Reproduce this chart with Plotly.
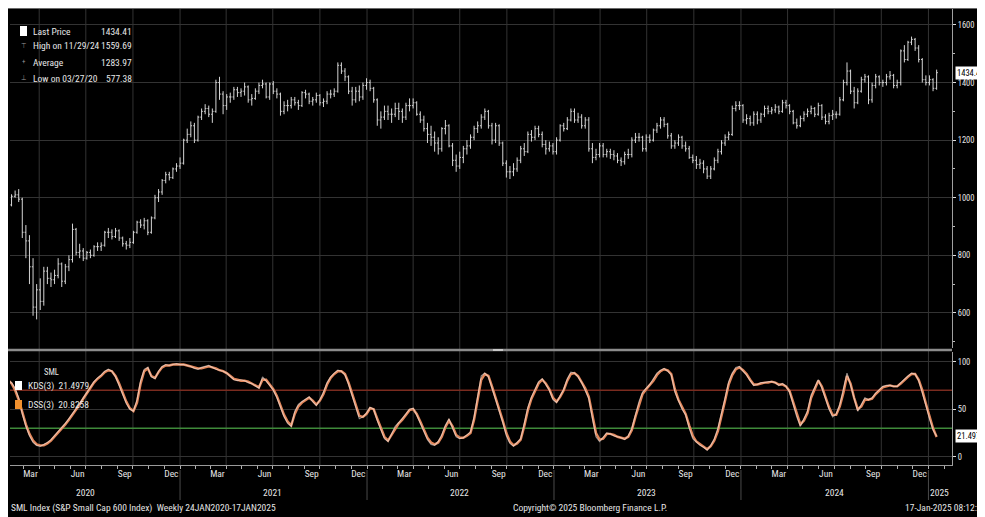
import plotly.graph_objects as go
import pandas as pd

# ---------------- data ----------------
week_dates = pd.date_range("2020-01-24", "2025-01-17", freq="7D")

first_open = 1010
close = [
    1000, 975, 1005, 1010, 995, 880, 850, 760, 620, 680,
    640, 745, 720, 715, 730, 770, 710, 760, 785, 890,
    810, 815, 790, 810, 800, 830, 830, 835, 880, 880,
    865, 885, 860, 840, 835, 845, 880, 915, 905, 920,
    880, 930, 1000, 1020, 1060, 1080, 1070, 1100, 1110, 1120,
    1200, 1220, 1250, 1200, 1280, 1300, 1310, 1290, 1300, 1400,
    1360, 1320, 1350, 1350, 1375, 1365, 1370, 1385, 1340, 1345,
    1370, 1390, 1395, 1350, 1395, 1370, 1360, 1300, 1320, 1320,
    1340, 1330, 1320, 1365, 1360, 1335, 1340, 1355, 1330, 1335,
    1360, 1360, 1370, 1460, 1440, 1420, 1370, 1340, 1370, 1350,
    1390, 1400, 1380, 1340, 1270, 1280, 1300, 1290, 1290, 1310,
    1300, 1280, 1320, 1320, 1330, 1290, 1270, 1240, 1220, 1210,
    1190, 1170, 1240, 1250, 1180, 1130, 1110, 1140, 1170, 1180,
    1210, 1240, 1250, 1280, 1300, 1250, 1200, 1250, 1190, 1120,
    1090, 1090, 1100, 1130, 1170, 1160, 1220, 1210, 1240, 1220,
    1185, 1170, 1180, 1160, 1200, 1250, 1240, 1270, 1300, 1270,
    1280, 1250, 1270, 1170, 1140, 1150, 1180, 1150, 1160, 1150,
    1145, 1130, 1125, 1150, 1150, 1200, 1210, 1210, 1170, 1210,
    1200, 1235, 1250, 1270, 1255, 1215, 1180, 1190, 1210, 1180,
    1170, 1140, 1130, 1115, 1120, 1100, 1075, 1100, 1130, 1160,
    1190, 1210, 1220, 1310, 1320, 1320, 1270, 1275, 1260, 1290,
    1270, 1290, 1310, 1300, 1305, 1315, 1300, 1330, 1320, 1300,
    1260, 1250, 1275, 1290, 1300, 1310, 1290, 1320, 1280, 1265,
    1285, 1290, 1290, 1340, 1400, 1440, 1370, 1330, 1370, 1410,
    1420, 1340, 1390, 1420, 1400, 1400, 1420, 1425, 1390, 1400,
    1510, 1480, 1540, 1550, 1520, 1480, 1410, 1400, 1410, 1380,
    1434.41,
]

high = [
    1025, 1010, 1012, 1025, 1030, 1000, 905, 870, 790, 700,
    720, 760, 760, 740, 750, 790, 775, 770, 800, 910,
    895, 840, 825, 815, 820, 835, 845, 845, 885, 895,
    890, 895, 890, 865, 850, 860, 885, 920, 925, 930,
    925, 935, 1010, 1030, 1065, 1090, 1090, 1105, 1120, 1140,
    1205, 1240, 1265, 1260, 1285, 1310, 1325, 1320, 1310, 1410,
    1420, 1370, 1360, 1365, 1385, 1385, 1380, 1400, 1390, 1360,
    1380, 1400, 1410, 1400, 1400, 1405, 1380, 1365, 1335, 1340,
    1350, 1350, 1340, 1370, 1375, 1365, 1350, 1365, 1360, 1345,
    1370, 1375, 1380, 1470, 1470, 1450, 1425, 1385, 1385, 1390,
    1400, 1415, 1410, 1385, 1345, 1300, 1320, 1320, 1310, 1330,
    1330, 1310, 1330, 1345, 1345, 1335, 1300, 1285, 1260, 1250,
    1230, 1210, 1245, 1270, 1255, 1190, 1150, 1160, 1180, 1200,
    1220, 1250, 1265, 1290, 1310, 1305, 1260, 1260, 1255, 1195,
    1130, 1110, 1120, 1140, 1180, 1190, 1230, 1235, 1250, 1250,
    1230, 1200, 1195, 1190, 1210, 1255, 1260, 1280, 1310, 1310,
    1295, 1290, 1280, 1280, 1190, 1170, 1190, 1190, 1170, 1170,
    1165, 1155, 1140, 1160, 1170, 1210, 1225, 1225, 1215, 1220,
    1220, 1240, 1260, 1280, 1280, 1260, 1225, 1200, 1220, 1215,
    1195, 1180, 1150, 1145, 1135, 1130, 1110, 1110, 1140, 1170,
    1200, 1220, 1230, 1320, 1335, 1335, 1325, 1290, 1285, 1300,
    1300, 1295, 1320, 1320, 1315, 1325, 1320, 1340, 1340, 1325,
    1305, 1275, 1285, 1300, 1310, 1320, 1315, 1330, 1325, 1290,
    1295, 1305, 1300, 1350, 1410, 1470, 1445, 1385, 1380, 1420,
    1430, 1425, 1400, 1430, 1425, 1410, 1430, 1440, 1430, 1410,
    1515, 1530, 1545, 1559.69, 1555, 1530, 1485, 1425, 1425, 1415,
    1445,
]

low = [
    990, 965, 970, 1000, 985, 860, 790, 700, 590, 577.38,
    610, 625, 700, 690, 700, 720, 690, 700, 745, 775,
    800, 790, 780, 785, 790, 795, 815, 815, 830, 860,
    855, 860, 850, 830, 820, 825, 840, 875, 895, 890,
    870, 875, 925, 985, 1010, 1050, 1060, 1065, 1090, 1100,
    1115, 1190, 1210, 1190, 1195, 1270, 1290, 1280, 1260, 1295,
    1340, 1290, 1305, 1330, 1340, 1350, 1350, 1355, 1330, 1320,
    1340, 1360, 1380, 1345, 1340, 1360, 1345, 1285, 1290, 1300,
    1310, 1320, 1305, 1315, 1345, 1325, 1320, 1330, 1320, 1315,
    1325, 1345, 1350, 1365, 1430, 1405, 1360, 1320, 1330, 1335,
    1340, 1375, 1370, 1330, 1250, 1240, 1270, 1270, 1260, 1280,
    1270, 1260, 1270, 1300, 1310, 1285, 1260, 1230, 1190, 1180,
    1160, 1150, 1160, 1220, 1175, 1110, 1090, 1100, 1120, 1150,
    1170, 1200, 1225, 1240, 1270, 1240, 1185, 1190, 1180, 1110,
    1070, 1065, 1075, 1090, 1120, 1145, 1155, 1195, 1200, 1210,
    1175, 1150, 1160, 1150, 1150, 1195, 1230, 1235, 1265, 1260,
    1260, 1240, 1240, 1160, 1120, 1130, 1140, 1140, 1140, 1135,
    1130, 1120, 1110, 1115, 1135, 1140, 1190, 1195, 1160, 1160,
    1190, 1195, 1225, 1240, 1245, 1205, 1170, 1170, 1180, 1170,
    1160, 1135, 1120, 1100, 1100, 1085, 1065, 1065, 1095, 1120,
    1150, 1180, 1200, 1215, 1300, 1305, 1260, 1255, 1250, 1250,
    1255, 1260, 1280, 1290, 1290, 1295, 1290, 1295, 1310, 1290,
    1255, 1240, 1245, 1265, 1280, 1290, 1280, 1285, 1270, 1255,
    1255, 1270, 1275, 1285, 1335, 1390, 1360, 1310, 1325, 1365,
    1400, 1325, 1330, 1380, 1390, 1385, 1390, 1410, 1380, 1380,
    1390, 1470, 1475, 1530, 1510, 1470, 1400, 1390, 1390, 1370,
    1375,
]

kds = [
    85, 80, 78, 72, 62, 45, 32, 22, 15, 12,
    11, 13, 15, 18, 22, 26, 30, 35, 40, 45,
    50, 56, 62, 68, 74, 79, 83, 86, 90, 92,
    90, 84, 75, 65, 56, 50, 48, 60, 80, 92,
    94, 84, 82, 90, 95, 97, 96, 97, 98, 97,
    97, 96, 95, 93, 92, 94, 95, 96, 94, 92,
    91, 90, 88, 84, 81, 80, 81, 80, 78, 77,
    74, 72, 84, 80, 75, 70, 62, 52, 42, 35,
    32, 48, 55, 58, 61, 63, 58, 54, 60, 68,
    78, 84, 88, 91, 90, 86, 76, 64, 52, 40,
    42, 46, 52, 50, 38, 28, 19, 16, 25, 32,
    36, 40, 45, 50, 51, 44, 35, 26, 18, 13,
    12, 16, 23, 33, 40, 30, 21, 19, 20, 23,
    26, 42, 62, 85, 88, 84, 72, 61, 48, 36,
    22, 14, 11, 15, 19, 35, 52, 63, 72, 79,
    82, 76, 70, 60, 57, 64, 71, 82, 89, 88,
    84, 78, 70, 61, 40, 21, 16, 20, 25, 24,
    22, 21, 20, 18, 22, 30, 45, 58, 68, 72,
    76, 82, 88, 91, 93, 90, 86, 68, 58, 50,
    44, 30, 19, 15, 12, 10, 7, 12, 19, 30,
    45, 62, 79, 88, 94, 95, 90, 86, 80, 75,
    76, 78, 78, 79, 79, 78, 75, 77, 74, 68,
    55, 42, 32, 40, 48, 65, 74, 81, 72, 61,
    50, 42, 45, 55, 70, 88, 75, 60, 48, 55,
    62, 60, 62, 67, 70, 74, 75, 75, 74, 74,
    78, 82, 85, 88, 87, 80, 68, 54, 40, 28,
    21.4979,
]

dss = [
    83, 81, 77, 70, 60, 47, 34, 24, 17, 13,
    12, 12, 14, 17, 21, 25, 29, 34, 39, 44,
    49, 55, 61, 67, 73, 78, 82, 85, 89, 91,
    90, 85, 77, 67, 58, 51, 48, 57, 77, 90,
    93, 85, 83, 89, 94, 96, 96, 97, 97, 97,
    97, 96, 95, 94, 93, 93, 94, 95, 94, 93,
    91, 90, 88, 85, 82, 81, 80, 80, 79, 77,
    75, 73, 81, 81, 76, 71, 64, 54, 44, 37,
    33, 45, 53, 57, 60, 62, 59, 55, 59, 66,
    76, 83, 87, 90, 90, 87, 78, 66, 54, 43,
    42, 45, 51, 50, 40, 30, 21, 17, 23, 30,
    35, 39, 44, 49, 50, 45, 37, 28, 20, 15,
    13, 15, 21, 31, 38, 32, 23, 20, 20, 22,
    25, 39, 58, 81, 87, 85, 74, 63, 50, 38,
    25, 16, 12, 14, 18, 32, 49, 61, 70, 77,
    81, 77, 71, 62, 58, 63, 70, 80, 87, 88,
    85, 79, 72, 63, 44, 25, 18, 19, 24, 24,
    23, 21, 20, 19, 21, 28, 42, 55, 66, 71,
    75, 80, 86, 90, 92, 91, 87, 71, 60, 52,
    45, 33, 22, 16, 13, 11, 8, 11, 17, 27,
    42, 59, 76, 86, 92, 94, 91, 87, 81, 76,
    76, 77, 78, 78, 79, 78, 76, 76, 74, 69,
    57, 44, 34, 38, 46, 62, 72, 80, 74, 63,
    52, 44, 44, 53, 67, 85, 77, 62, 50, 53,
    60, 60, 61, 66, 69, 73, 74, 75, 74, 74,
    77, 81, 84, 87, 87, 81, 70, 56, 42, 30,
    20.8258,
]

low_value = 577.38
high_value = 1559.69
last_price = 1434.41
avg_price = 1283.97

price_ticks = [600, 800, 1000, 1200, 1400, 1600]
stoch_ticks = [0, 50, 100]
stoch_upper, stoch_lower = 70, 30

label_years = [2020, 2021, 2022, 2023, 2024]
label_months = ["Mar", "Jun", "Sep", "Dec"]
year_label_dates = ["2020-07-01", "2021-07-01", "2022-07-01", "2023-07-01", "2024-07-01", "2025-01-22"]
year_labels = ["2020", "2021", "2022", "2023", "2024", "2025"]
year_sep_dates = ["2021-01-01", "2022-01-01", "2023-01-01", "2024-01-01", "2025-01-01"]

x_range = ["2020-02-04", "2025-02-16"]

# ---------------- OHLC opens (previous close) ----------------
opens = [first_open] + close[:-1]

month_num = {"Mar": 3, "Jun": 6, "Sep": 9, "Dec": 12}
tick_vals, tick_text = [], []
for y in label_years:
    for m in label_months:
        tick_vals.append(pd.Timestamp(year=y, month=month_num[m], day=15))
        tick_text.append(m)

grid_dates = pd.date_range("2020-04-01", "2025-01-01", freq="QS")

FONT = "Liberation Sans Narrow, Arial Narrow, Roboto Condensed, DejaVu Sans Condensed, Liberation Sans, sans-serif"
TXT = "#e6e6e6"

fig = go.Figure()
fig.add_trace(go.Ohlc(
    x=week_dates, open=opens, high=high, low=low, close=close,
    increasing=dict(line=dict(color="#d4d4d4", width=1)),
    decreasing=dict(line=dict(color="#d4d4d4", width=1)),
    tickwidth=0.35, xaxis="x", yaxis="y", showlegend=False, hoverinfo="skip",
))
fig.add_trace(go.Scatter(
    x=week_dates, y=dss, mode="lines", line=dict(color="#e2865a", width=2.4),
    xaxis="x2", yaxis="y2", showlegend=False, hoverinfo="skip",
))
fig.add_trace(go.Scatter(
    x=week_dates, y=kds, mode="lines", line=dict(color="rgba(245,232,225,0.6)", width=1.2),
    xaxis="x2", yaxis="y2", showlegend=False, hoverinfo="skip",
))

# geometry: the page body adds an 8px white margin; coordinates below are screen pixels
OFF = 8
W, H = 977, 509
ML, MR, MT, MB = 2, 33, 0, 52
PW, PH = W - ML - MR, H - MT - MB
def px_x(p):
    return (p - OFF - ML) / PW
def px_y(p):
    return (H - MB - (p - OFF)) / PH

main_bottom = px_y(348)
lower_top = px_y(352)

shapes = []
for d in grid_dates:
    shapes.append(dict(type="line", xref="x", yref="paper", x0=d, x1=d, y0=0, y1=1,
                       line=dict(color="#333333", width=1), layer="below"))
shapes.append(dict(type="line", xref="paper", yref="y2", x0=0, x1=1, y0=stoch_upper, y1=stoch_upper,
                   line=dict(color="#7a2b1f", width=1.5), layer="below"))
shapes.append(dict(type="line", xref="paper", yref="y2", x0=0, x1=1, y0=stoch_lower, y1=stoch_lower,
                   line=dict(color="#3f8a3a", width=1.5), layer="below"))
# panel separator
shapes.append(dict(type="line", xref="paper", yref="paper", x0=px_x(8), x1=1, y0=px_y(350), y1=px_y(350),
                   line=dict(color="#8c8c8c", width=2.5)))
shapes.append(dict(type="rect", xref="paper", yref="paper", x0=px_x(493), x1=px_x(503), y0=px_y(349), y1=px_y(351),
                   line=dict(width=0), fillcolor="#c8c8c8"))
# top border
shapes.append(dict(type="line", xref="paper", yref="paper", x0=px_x(8), x1=px_x(985), y0=px_y(8.5), y1=px_y(8.5),
                   line=dict(color="#6a6a6a", width=1)))
# year separators in the label band
for d in year_sep_dates:
    shapes.append(dict(type="line", xref="x2", yref="paper", x0=d, x1=d, y0=px_y(470), y1=px_y(500),
                       line=dict(color="#4a4a4a", width=1)))

ann = []
def text(px, py, s, size=9.5, color=TXT, xanchor="left"):
    ann.append(dict(xref="paper", yref="paper", x=px_x(px), y=px_y(py), text=s, showarrow=False,
                    xanchor=xanchor, yanchor="middle", font=dict(family=FONT, size=size, color=color)))

# price legend
text(31, 31, "Last Price")
text(134, 31, f"{last_price:.2f}", xanchor="right")
text(31, 46, "High on 11/29/24")
text(134, 46, f"{high_value:.2f}", xanchor="right")
text(31, 62, "Average")
text(134, 62, f"{avg_price:.2f}", xanchor="right")
text(31, 78, "Low on 03/27/20")
text(134, 78, f"{low_value:.2f}", xanchor="right")
shapes.append(dict(type="rect", xref="paper", yref="paper", x0=px_x(20), x1=px_x(27), y0=px_y(36), y1=px_y(26),
                   line=dict(width=0), fillcolor="white"))
text(24, 46, "⊤", 7, color="#9a9a9a", xanchor="center")
text(24, 62, "+", 7, color="#9a9a9a", xanchor="center")
text(24, 78, "⊥", 7, color="#9a9a9a", xanchor="center")

# stochastic legend
text(42, 372, "SML", 8.5)
shapes.append(dict(type="rect", xref="paper", yref="paper", x0=px_x(15), x1=px_x(22), y0=px_y(390), y1=px_y(381),
                   line=dict(width=0), fillcolor="white"))
text(26, 386, f"KDS(3)  {kds[-1]:.4f}")
shapes.append(dict(type="rect", xref="paper", yref="paper", x0=px_x(15), x1=px_x(22), y0=px_y(409), y1=px_y(400),
                   line=dict(width=0), fillcolor="#f0902e"))
text(26, 405, f"DSS(3)  {dss[-1]:.4f}")

# right-axis value boxes
ann.append(dict(xref="paper", yref="y", x=px_x(955), y=last_price, text=f"{last_price:.2f}", showarrow=False,
                xanchor="left", yanchor="middle", bgcolor="white", borderpad=1,
                font=dict(family=FONT, size=8.5, color="black")))
ann.append(dict(xref="paper", yref="y2", x=px_x(955), y=kds[-1], text=f"{kds[-1]:.4f}", showarrow=False,
                xanchor="left", yanchor="middle", bgcolor="white", borderpad=1,
                font=dict(family=FONT, size=8.5, color="black")))

# year labels
for d, s in zip(year_label_dates, year_labels):
    ann.append(dict(xref="x2", yref="paper", x=d, y=px_y(492), text=s, showarrow=False,
                    xanchor="center", yanchor="middle", font=dict(family=FONT, size=9.5, color=TXT)))

# footer
text(9, 508, "SML Index (S&P Small Cap 600 Index)  Weekly 24JAN2020-17JAN2025")
text(590, 508, "Copyright© 2025 Bloomberg Finance L.P.", xanchor="center")
text(903, 508, "17-Jan-2025 08:12:11")

fig.update_layout(
    width=W, height=H,
    margin=dict(l=ML, r=MR, t=MT, b=MB),
    paper_bgcolor="black", plot_bgcolor="black",
    font=dict(family=FONT, color=TXT, size=8),
    showlegend=False,
    shapes=shapes, annotations=ann,
    xaxis=dict(domain=[0, 1], anchor="y", range=x_range, type="date", showgrid=False,
               showticklabels=False, ticks="", zeroline=False, rangeslider=dict(visible=False)),
    xaxis2=dict(domain=[0, 1], anchor="y2", range=x_range, type="date", matches="x",
                tickmode="array", tickvals=tick_vals, ticktext=tick_text, ticks="",
                tickfont=dict(family=FONT, size=9.5, color=TXT), showgrid=False, zeroline=False,
                showline=True, linecolor="#9a9a9a", linewidth=1,
                minor=dict(tickmode="linear", dtick="M1", tick0="2020-01-01", ticks="outside",
                           ticklen=3, tickcolor="#b0b0b0", showgrid=False)),
    yaxis=dict(domain=[main_bottom, 1], anchor="x", side="right", range=[478, 1659],
               tickmode="array", tickvals=price_ticks, ticks="outside", ticklen=3, tickcolor="#dddddd",
               showgrid=True, gridcolor="#333333", gridwidth=1, zeroline=False,
               showline=True, linecolor="#a0a0a0", linewidth=1,
               tickfont=dict(family=FONT, size=8.5, color=TXT),
               minor=dict(tickmode="linear", dtick=100, ticks="outside", ticklen=2, tickcolor="#bbbbbb", showgrid=False)),
    yaxis2=dict(domain=[0, lower_top], anchor="x2", side="right", range=[-8.7, 110.2],
                tickmode="array", tickvals=stoch_ticks, ticks="outside", ticklen=3, tickcolor="#dddddd",
                showgrid=True, gridcolor="#333333", gridwidth=1, zeroline=False,
                showline=True, linecolor="#a0a0a0", linewidth=1,
                tickfont=dict(family=FONT, size=8.5, color=TXT)),
)

fig.write_html("out.html")
